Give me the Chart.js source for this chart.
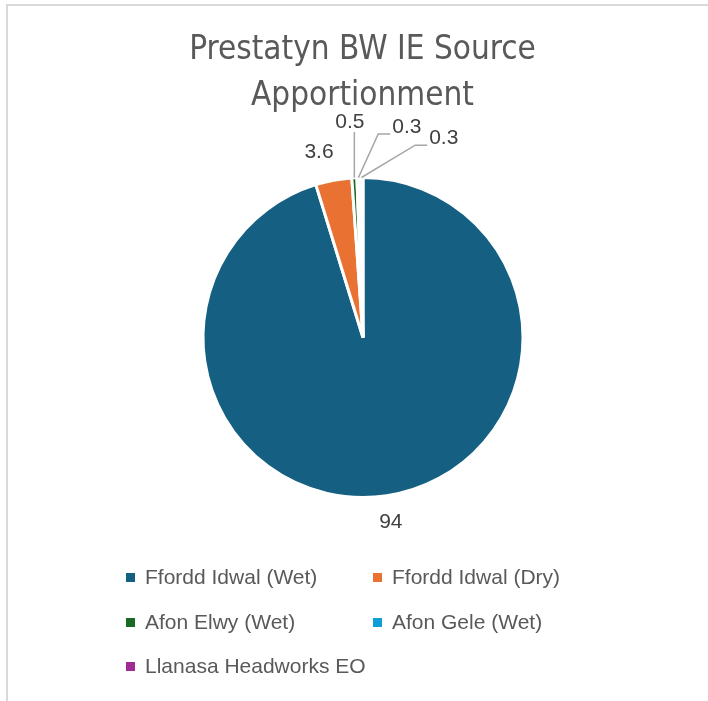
<!DOCTYPE html>
<html>
<head>
    <title>Prestatyn BW IE Source Apportionment</title>
    <script src="https://cdn.jsdelivr.net/npm/chart.js"></script>
    <style>
        body { margin: 0; background: #fff; }
        #frame { position: absolute; left: 6px; top: 4px; width: 702px; height: 697px;
                 border-left: 2px solid #d9d9d9; border-top: 2px solid #d9d9d9; box-sizing: border-box; }
        #title { position: absolute; left: 0; top: 25px; width: 725px; text-align: center;
                 font-family: "Liberation Sans Narrow", "DejaVu Sans Condensed", sans-serif;
                 font-size: 33px; line-height: 46px; color: #595959; }
        #wrap { position: absolute; left: 0; top: 0; width: 708px; height: 701px; }
        .item { position: absolute; font-family: "Liberation Sans", sans-serif; font-size: 21px;
                color: #595959; white-space: nowrap; line-height: 22px; }
        .item span { display: inline-block; width: 9px; height: 9px; margin-right: 10px; vertical-align: 2px; }
    </style>
</head>
<body>
    <div id="frame"></div>
    <div id="wrap"><canvas id="pieChart" width="708" height="701"></canvas></div>
    <div id="title">Prestatyn BW IE Source<br>Apportionment</div>
    <div id="legend"></div>

    <script>
        var labels = ['Ffordd Idwal (Wet)', 'Ffordd Idwal (Dry)', 'Afon Elwy (Wet)', 'Afon Gele (Wet)', 'Llanasa Headworks EO'];
        var values = [94, 3.6, 0.5, 0.3, 0.3];
        var colors = ['#156082', '#E97132', '#196B24', '#0F9ED5', '#A02B93'];

        // where each value label sits: angle shift (deg) from slice middle, distance beyond the rim, leader style
        var placement = [
            { shift: 0, dist: 27, leader: null },
            { shift: -2.8, dist: 30, leader: null },
            { shift: -0.4, dist: 56, leader: 'vertical' },
            { shift: 13.4, dist: 55, leader: 'elbow' },
            { shift: 22.6, dist: 55, leader: 'elbow' }
        ];

        var valueLabels = {
            id: 'valueLabels',
            afterDatasetsDraw: function (chart) {
                var ctx = chart.ctx;
                var meta = chart.getDatasetMeta(0);
                ctx.save();
                ctx.font = '21px "Liberation Sans", sans-serif';
                ctx.textAlign = 'center';
                ctx.textBaseline = 'middle';
                meta.data.forEach(function (arc, i) {
                    var p = placement[i];
                    var mid = (arc.startAngle + arc.endAngle) / 2;
                    var r = arc.outerRadius;
                    var a = mid + p.shift * Math.PI / 180;
                    var lx = arc.x + Math.cos(a) * (r + p.dist);
                    var ly = arc.y + Math.sin(a) * (r + p.dist);
                    var text = String(values[i]);
                    var w = ctx.measureText(text).width;
                    var ax = arc.x + Math.cos(mid) * r;
                    var ay = arc.y + Math.sin(mid) * r;
                    ctx.strokeStyle = '#a6a6a6';
                    ctx.lineWidth = 1.5;
                    if (p.leader === 'vertical') {
                        ctx.beginPath();
                        ctx.moveTo(ax, ay);
                        ctx.lineTo(ax, ly + 10);
                        ctx.stroke();
                    } else if (p.leader === 'elbow') {
                        var left = lx - w / 2;
                        ctx.beginPath();
                        ctx.moveTo(ax, ay);
                        ctx.lineTo(left - 14, ly + 7);
                        ctx.lineTo(left - 2, ly + 7);
                        ctx.stroke();
                    }
                    ctx.fillStyle = '#404040';
                    ctx.fillText(text, lx, ly);
                });
                ctx.restore();
            }
        };

        var ctx = document.getElementById('pieChart').getContext('2d');
        var chart = new Chart(ctx, {
            type: 'pie',
            data: {
                labels: labels,
                datasets: [{
                    data: values,
                    backgroundColor: colors,
                    borderColor: '#ffffff',
                    borderWidth: 3
                }]
            },
            options: {
                responsive: false,
                animation: false,
                layout: { padding: { left: 201, right: 183, top: 176, bottom: 202 } },
                plugins: {
                    legend: { display: false },
                    title: { display: false },
                    tooltip: { enabled: false }
                }
            },
            plugins: [valueLabels]
        });

        // legend in two columns like the original
        var legend = document.getElementById('legend');
        labels.forEach(function (name, i) {
            var el = document.createElement('div');
            el.className = 'item';
            el.style.left = (i % 2 === 0 ? 126 : 373) + 'px';
            el.style.top = (566 + Math.floor(i / 2) * 44.5) + 'px';
            el.innerHTML = '<span style="background:' + colors[i] + '"></span>' + name;
            legend.appendChild(el);
        });
    </script>
</body>
</html>
